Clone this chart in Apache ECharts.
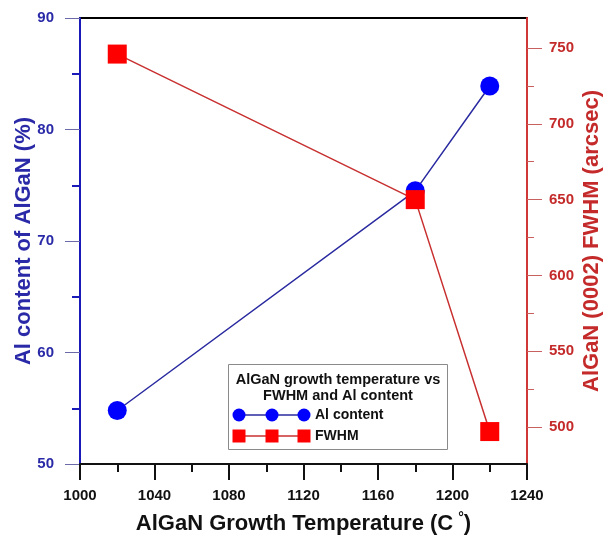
<!DOCTYPE html>
<html>
<head>
<meta charset="utf-8">
<script src="https://cdn.jsdelivr.net/npm/echarts@6.0.0/dist/echarts.min.js"></script>
<style>
  html, body { margin: 0; padding: 0; background: #fff; }
  #main { width: 611px; height: 535px; }
</style>
</head>
<body>
<div id="main"></div>
<script>
// data
var temps = [1020, 1180, 1220];
var alContent = [54.8, 74.5, 83.9];
var fwhm = [746, 650, 497];
var fwhmTicks = [500, 550, 600, 650, 700, 750];
var fwhmMinorTicks = [500, 525, 550, 575, 600, 625, 650, 675, 700, 725, 750];

var FONT = 'Liberation Sans';
var BLUE = '#0000ff', BLUE_DARK = '#2a2aa8';
var RED = '#ff0000', RED_DARK = '#c42a2a';

function pairs(xs, ys) {
  return xs.map(function(x, i) { return [x, ys[i]]; });
}

var myChart = echarts.init(document.getElementById('main'));

//右轴范围（图上不是整数）
var rMin = 475.6, rMax = 769.8;

var option = {
  animation: false,
  grid: {
    left: 80, right: 84, top: 18, bottom: 71,
    outerBoundsMode: 'none',
    show: true, borderColor: '#000', borderWidth: 2
  },
  xAxis: {
    type: 'value',
    min: 1000, max: 1240, interval: 40,
    name: 'AlGaN Growth Temperature (C{s|°})',
    nameLocation: 'middle',
    nameGap: 47,
    nameMoveOverlap: false,
    nameTextStyle: {
      fontFamily: FONT, fontWeight: 'bold', fontSize: 22, color: '#111',
      rich: { s: { fontFamily: FONT, fontSize: 14, fontWeight: 'bold', padding: [0, 0, 11, 5], color: '#111' } }
    },
    axisLine: { lineStyle: { color: '#111', width: 2 } },
    axisTick: { length: 16, lineStyle: { color: '#111', width: 2 } },
    minorTick: { show: true, splitNumber: 2, length: 8, lineStyle: { color: '#111', width: 2 } },
    axisLabel: {
      margin: 24, fontFamily: FONT, fontWeight: 'bold', fontSize: 15, color: '#111',
      formatter: function(v) { return String(v); }
    },
    splitLine: { show: false }
  },
  yAxis: [
    {
      type: 'value', position: 'left',
      min: 50, max: 90, interval: 10,
      name: 'Al content of AlGaN (%)',
      nameLocation: 'middle',
      nameGap: 45,
      nameMoveOverlap: false,
      nameTextStyle: { fontFamily: FONT, fontWeight: 'bold', fontSize: 22, color: BLUE_DARK },
      axisLine: { show: true, lineStyle: { color: '#1a1ab8', width: 2 } },
      axisTick: { length: 15, lineStyle: { color: '#6a6aa8', width: 1 } },
      minorTick: { show: true, splitNumber: 2, length: 8, lineStyle: { color: '#1a1ab8', width: 2 } },
      axisLabel: { margin: 26, fontFamily: FONT, fontWeight: 'bold', fontSize: 15, color: BLUE_DARK },
      splitLine: { show: false }
    },
    {
      type: 'value', position: 'right',
      min: rMin, max: rMax,
      name: 'AlGaN (0002) FWHM (arcsec)',
      nameLocation: 'middle',
      nameGap: 54,
      nameRotate: 90,
      nameMoveOverlap: false,
      nameTextStyle: { fontFamily: FONT, fontWeight: 'bold', fontSize: 22, color: RED_DARK },
      axisLine: { show: true, lineStyle: { color: '#d03838', width: 2 } },
      axisTick: { customValues: fwhmTicks, length: 15, lineStyle: { color: '#c86060', width: 1 } },
      axisLabel: { customValues: fwhmTicks, margin: 22, fontFamily: FONT, fontWeight: 'bold', fontSize: 15, color: RED_DARK },
      splitLine: { show: false }
    },
    {
      // short ticks every 25 on the right axis
      type: 'value', position: 'right',
      min: rMin, max: rMax,
      axisLine: { show: false },
      axisTick: { customValues: fwhmMinorTicks, length: 7, lineStyle: { color: '#c86060', width: 1 } },
      axisLabel: { show: false, customValues: fwhmMinorTicks },
      splitLine: { show: false }
    }
  ],
  series: [
    {
      name: 'Al content', type: 'line', yAxisIndex: 0,
      data: pairs(temps, alContent),
      symbol: 'circle', symbolSize: 19,
      itemStyle: { color: BLUE },
      lineStyle: { color: '#2a2aa0', width: 1.5 },
      z: 2
    },
    {
      name: 'FWHM', type: 'line', yAxisIndex: 1,
      data: pairs(temps, fwhm),
      symbol: 'rect', symbolSize: 19,
      itemStyle: { color: RED },
      lineStyle: { color: '#c83030', width: 1.5 },
      z: 3
    }
  ],
  graphic: [
    { type: 'rect', shape: { x: 228.5, y: 364.5, width: 219, height: 85 },
      style: { fill: '#fff', stroke: '#8a8a8a', lineWidth: 1 }, z: 10 },
    { type: 'text', x: 338, y: 380, z: 11,
      style: { text: 'AlGaN growth temperature vs', fontFamily: FONT, fontWeight: 'bold', fontSize: 14.5,
               fill: '#111', align: 'center', verticalAlign: 'middle' } },
    { type: 'text', x: 338, y: 396, z: 11,
      style: { text: 'FWHM and Al content', fontFamily: FONT, fontWeight: 'bold', fontSize: 14.5,
               fill: '#111', align: 'center', verticalAlign: 'middle' } },
    { type: 'line', shape: { x1: 239, y1: 415, x2: 304, y2: 415 }, style: { stroke: '#2a2aa0', lineWidth: 1.5 }, z: 11 },
    { type: 'circle', shape: { cx: 239, cy: 415, r: 6.5 }, style: { fill: BLUE }, z: 12 },
    { type: 'circle', shape: { cx: 272, cy: 415, r: 6.5 }, style: { fill: BLUE }, z: 12 },
    { type: 'circle', shape: { cx: 304, cy: 415, r: 6.5 }, style: { fill: BLUE }, z: 12 },
    { type: 'text', x: 315, y: 415, z: 11,
      style: { text: 'Al content', fontFamily: FONT, fontWeight: 'bold', fontSize: 14,
               fill: '#111', align: 'left', verticalAlign: 'middle' } },
    { type: 'line', shape: { x1: 239, y1: 436, x2: 304, y2: 436 }, style: { stroke: '#c83030', lineWidth: 1.5 }, z: 11 },
    { type: 'rect', shape: { x: 232.5, y: 429.5, width: 13, height: 13 }, style: { fill: RED }, z: 12 },
    { type: 'rect', shape: { x: 265.5, y: 429.5, width: 13, height: 13 }, style: { fill: RED }, z: 12 },
    { type: 'rect', shape: { x: 297.5, y: 429.5, width: 13, height: 13 }, style: { fill: RED }, z: 12 },
    { type: 'text', x: 315, y: 436, z: 11,
      style: { text: 'FWHM', fontFamily: FONT, fontWeight: 'bold', fontSize: 14,
               fill: '#111', align: 'left', verticalAlign: 'middle' } }
  ]
};
myChart.setOption(option);
</script>
</body>
</html>
